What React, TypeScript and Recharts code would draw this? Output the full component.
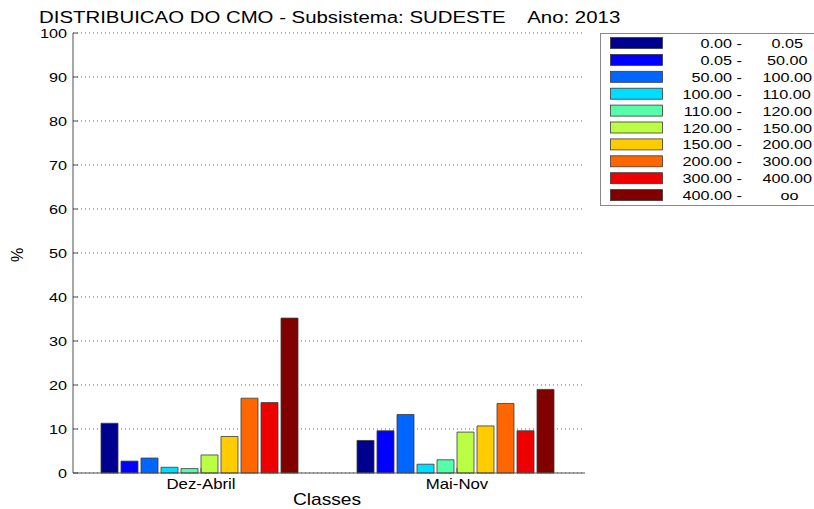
import { BarChart, Bar, XAxis, YAxis, CartesianGrid } from 'recharts';

const categories = ['Dez-Abril', 'Mai-Nov'];

const classFrom = ['0.00 -', '0.05 -', '50.00 -', '100.00 -', '110.00 -', '120.00 -', '150.00 -', '200.00 -', '300.00 -', '400.00 -'];
const classTo = ['   0.05', '  50.00', ' 100.00', ' 110.00', ' 120.00', ' 150.00', ' 200.00', ' 300.00', ' 400.00', '     oo'];

const colors = ['#00008F', '#0000FF', '#0066FF', '#00DDFF', '#55FFAA', '#BBFF44', '#FFCC00', '#FF6600', '#EE0000', '#800000'];

// % of hours in each CMO class, per period
const dezAbril = [11.3, 2.7, 3.4, 1.3, 1.0, 4.1, 8.3, 17.0, 16.0, 35.2];
const maiNov = [7.4, 9.6, 13.3, 2.0, 3.0, 9.3, 10.7, 15.8, 9.6, 19.0];

const yTicks = [0, 10, 20, 30, 40, 50, 60, 70, 80, 90, 100];

const data = categories.map((name, i) => {
  const row: Record<string, string | number> = { name };
  const vals = i === 0 ? dezAbril : maiNov;
  vals.forEach((v, k) => { row[`c${k}`] = v; });
  return row;
});

const FONT = '"Liberation Sans", Arial, sans-serif';
const FRAME = '#505050';
const SX = 1.2; // the original figure is stretched sideways

function LeftTick(props: any) {
  const { x, y, payload } = props;
  return (
    <g>
      <line x1={x} x2={x + 5} y1={y} y2={y} stroke={FRAME} />
      <text
        transform={`translate(${x - 6},${y + 5}) scale(${SX},1)`}
        textAnchor="end"
        fontSize={13.5}
        fontFamily={FONT}
        fill="#000"
      >
        {payload.value}
      </text>
    </g>
  );
}

function RightTick(props: any) {
  const { x, y } = props;
  return <line x1={x - 5} x2={x} y1={y} y2={y} stroke={FRAME} />;
}

function BottomTick(props: any) {
  const { x, y, payload } = props;
  return (
    <g>
      <line x1={x} x2={x} y1={y} y2={y - 5} stroke={FRAME} />
      <text
        transform={`translate(${x},${y + 16}) scale(${SX},1)`}
        textAnchor="middle"
        fontSize={14}
        fontFamily={FONT}
        fill="#000"
      >
        {payload.value}
      </text>
    </g>
  );
}

function TopTick(props: any) {
  const { x, y } = props;
  return <line x1={x} x2={x} y1={y} y2={y + 5} stroke={FRAME} />;
}

export default function App() {
  return (
    <div style={{ position: 'absolute', left: 0, top: 0, width: 814, height: 509, background: '#fff', overflow: 'hidden' }}>
      <BarChart
        width={814}
        height={509}
        data={data}
        margin={{ top: 33, right: 229, left: 33, bottom: 0 }}
        barCategoryGap={28}
        barGap={3}
      >
        <CartesianGrid vertical={false} stroke="#666" strokeDasharray="1 3" />
        <XAxis
          dataKey="name"
          height={36}
          tickSize={0}
          tickMargin={0}
          axisLine={{ stroke: FRAME }}
          tickLine={false}
          tick={<BottomTick />}
        />
        <XAxis
          xAxisId="top"
          dataKey="name"
          orientation="top"
          height={0}
          tickSize={0}
          tickMargin={0}
          axisLine={{ stroke: FRAME }}
          tickLine={false}
          tick={<TopTick />}
        />
        <YAxis
          width={40}
          domain={[0, 100]}
          ticks={yTicks}
          interval={0}
          tickSize={0}
          tickMargin={0}
          axisLine={{ stroke: FRAME }}
          tickLine={false}
          tick={<LeftTick />}
        />
        <YAxis
          yAxisId="right"
          orientation="right"
          width={0}
          domain={[0, 100]}
          ticks={yTicks}
          interval={0}
          tickSize={0}
          tickMargin={0}
          axisLine={{ stroke: FRAME }}
          tickLine={false}
          tick={<RightTick />}
        />
        {colors.map((c, k) => (
          <Bar
            key={k}
            dataKey={`c${k}`}
            fill={c}
            stroke="#3a3a3a"
            strokeWidth={0.8}
            isAnimationActive={false}
          />
        ))}
      </BarChart>

      <svg width={814} height={509} style={{ position: 'absolute', left: 0, top: 0, pointerEvents: 'none' }}>
        <text transform={`translate(39,23) scale(${SX},1)`} fontSize={17} fontFamily={FONT} fill="#000" style={{ whiteSpace: 'pre' }}>
          {'DISTRIBUICAO DO CMO - Subsistema: SUDESTE    Ano: 2013'}
        </text>
        <text transform="translate(23,255) rotate(-90)" textAnchor="middle" fontSize={16} fontFamily={FONT} fill="#000">
          %
        </text>
        <text transform={`translate(327,505) scale(${SX},1)`} textAnchor="middle" fontSize={16} fontFamily={FONT} fill="#000">
          Classes
        </text>

        <rect x={600.5} y={33.5} width={240} height={172} fill="#fff" stroke="#888" />
        {colors.map((c, k) => {
          const top = 37 + k * 16.9;
          return (
            <g key={k}>
              <rect x={610.5} y={top + 0.5} width={52} height={11} fill={c} stroke="#3a3a3a" strokeWidth={0.8} />
              <text transform={`translate(742,${top + 11}) scale(${SX},1)`} textAnchor="end" fontSize={13.5} fontFamily={FONT} fill="#000">
                {classFrom[k]}
              </text>
              <text transform={`translate(758,${top + 11}) scale(${SX},1)`} fontSize={13.5} fontFamily={FONT} fill="#000" style={{ whiteSpace: 'pre' }}>
                {classTo[k]}
              </text>
            </g>
          );
        })}
      </svg>
    </div>
  );
}
